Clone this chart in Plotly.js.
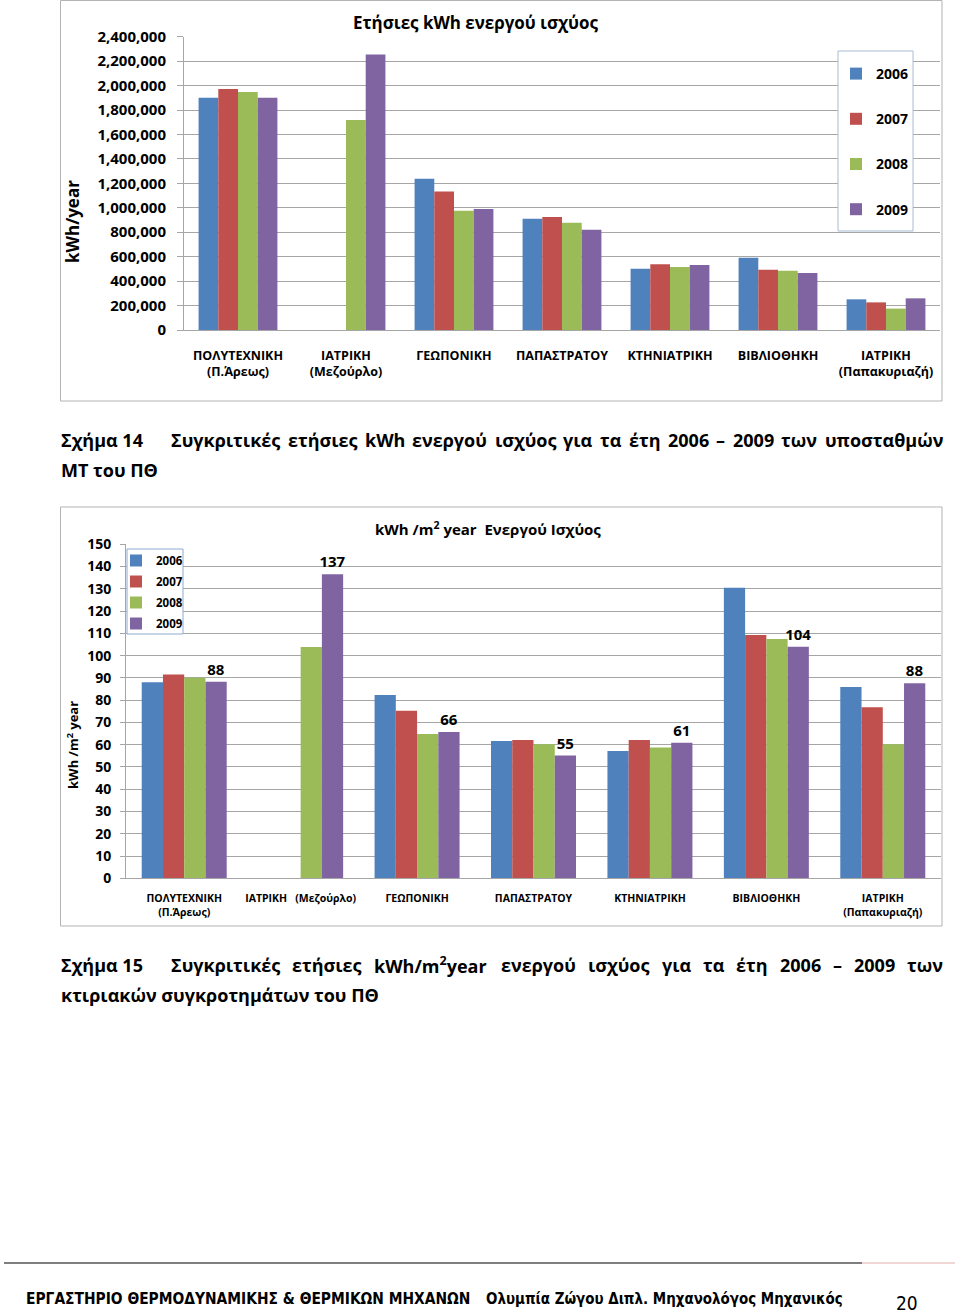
<!DOCTYPE html>
<html>
<head>
<meta charset="utf-8">
<script src="https://cdn.plot.ly/plotly-3.0.1.min.js"></script>
<style>
html,body{margin:0;padding:0;background:#fff;}
#chart{width:960px;height:1315px;}
</style>
</head>
<body>
<div id="chart"></div>
<script>
// ---------- DATA ----------
const categoriesEnergy = ["ΠΟΛΥΤΕΧΝΙΚΗ<br>(Π.Άρεως)", "ΙΑΤΡΙΚΗ<br>(Μεζούρλο)", "ΓΕΩΠΟΝΙΚΗ", "ΠΑΠΑΣΤΡΑΤΟΥ", "ΚΤΗΝΙΑΤΡΙΚΗ", "ΒΙΒΛΙΟΘΗΚΗ", "ΙΑΤΡΙΚΗ<br>(Παπακυριαζή)"];
const categoriesIntensity = ["ΠΟΛΥΤΕΧΝΙΚΗ<br>(Π.Άρεως)", "ΙΑΤΡΙΚΗ\u00a0\u00a0\u00a0(Μεζούρλο)", "ΓΕΩΠΟΝΙΚΗ", "ΠΑΠΑΣΤΡΑΤΟΥ", "ΚΤΗΝΙΑΤΡΙΚΗ", "ΒΙΒΛΙΟΘΗΚΗ", "ΙΑΤΡΙΚΗ<br>(Παπακυριαζή)"];
const years = ["2006", "2007", "2008", "2009"];

const energy2006 = [1901000, null, 1238000, 911000, 502000, 592000, 251000];
const energy2007 = [1972000, null, 1134000, 924000, 537000, 494000, 226000];
const energy2008 = [1947000, 1718000, 976000, 878000, 515000, 485000, 175000];
const energy2009 = [1900000, 2255000, 990000, 821000, 532000, 466000, 259000];

const intensity2006 = [88.0, null, 82.3, 61.7, 57.2, 130.5, 85.9];
const intensity2007 = [91.5, null, 75.3, 62.1, 62.1, 109.3, 76.8];
const intensity2008 = [90.1, 103.9, 64.8, 60.2, 58.7, 107.5, 60.2];
const intensity2009 = [88.3, 136.6, 65.7, 55.1, 60.9, 104.0, 87.6];

const seriesColors = ["#4f81bd", "#c0504d", "#9bbb59", "#8064a2"];

// ---------- HELPERS ----------
const W = 960, H = 1315;
const px = x => x / W;
const py = y => 1 - y / H;
const FONT = '"Open Sans", "Noto Sans", sans-serif';
const FOOTFONT = '"DejaVu Sans Condensed", "Liberation Sans Narrow", "DejaVu Sans", sans-serif';
const cv = document.createElement('canvas').getContext('2d');
function measure(text, size, weight, family) {
  cv.font = weight + ' ' + size + 'px ' + family;
  return cv.measureText(text.replace(/<\/?sup>/g, '')).width;
}
function fitSize(text, target, weight, family) {
  return 20 * target / measure(text, 20, weight, family);
}

const annotations = [];
function addText(text, xPix, yPix, size, opts) {
  opts = opts || {};
  annotations.push(Object.assign({
    text: text, x: px(xPix), y: py(yPix), xref: 'paper', yref: 'paper',
    xanchor: 'left', yanchor: 'middle', showarrow: false, borderpad: 0,
    font: {family: FONT, size: size, color: '#000', weight: 'bold'}
  }, opts));
}
function justify(words, x0, x1, yPix, size) {
  const ws = words.map(w => measure(w, size, 'bold', FONT));
  const total = ws.reduce((a, b) => a + b, 0);
  const gap = (x1 - x0 - total) / (words.length - 1);
  let x = x0;
  words.forEach((w, i) => { addText(w, x, yPix, size); x += ws[i] + gap; });
}

// ---------- TRACES ----------
const energySeries = [energy2006, energy2007, energy2008, energy2009];
const intensitySeries = [intensity2006, intensity2007, intensity2008, intensity2009];
const traces = [];
years.forEach((yr, i) => {
  traces.push({
    type: 'bar', name: yr, x: categoriesEnergy, y: energySeries[i],
    marker: {color: seriesColors[i]}, xaxis: 'x', yaxis: 'y',
    legend: 'legend', legendgroup: 'e' + i, hoverinfo: 'y+name'
  });
});
years.forEach((yr, i) => {
  const t = {
    type: 'bar', name: yr, x: categoriesIntensity, y: intensitySeries[i],
    marker: {color: seriesColors[i]}, xaxis: 'x2', yaxis: 'y2',
    legend: 'legend2', legendgroup: 'i' + i, hoverinfo: 'y+name'
  };
  if (i === 3) {
    t.text = intensitySeries[i].map(v => String(Math.round(v)));
    t.textposition = 'outside';
    t.constraintext = 'none';
    t.cliponaxis = false;
    t.textfont = {family: FONT, size: 15, color: '#000', weight: 'bold'};
  }
  traces.push(t);
});

// ---------- TEXT ----------
addText('Ετήσιες kWh ενεργού ισχύος', 476, 23, fitSize('Ετήσιες kWh ενεργού ισχύος', 245, 'bold', FONT), {xanchor: 'center'});
addText('kWh /m<sup>2</sup> year\u00a0\u00a0Ενεργού Ισχύος', 488, 528, 15, {xanchor: 'center'});
addText('kWh/year', 73, 222, 17, {xanchor: 'center', textangle: -90});
addText('kWh /m<sup>2</sup> year', 72, 745, 13, {xanchor: 'center', textangle: -90});

const capSize = fitSize('Σχήμα 14', 82, 'bold', FONT);
addText('Σχήμα 14', 60, 440, capSize);
justify(['Συγκριτικές', 'ετήσιες', 'kWh', 'ενεργού', 'ισχύος', 'για', 'τα', 'έτη', '2006', '–', '2009', 'των', 'υποσταθμών'], 170, 942, 440, capSize);
addText('ΜΤ του ΠΘ', 60, 470, capSize);
addText('Σχήμα 15', 60, 965, capSize);
justify(['Συγκριτικές', 'ετήσιες', 'kWh/m<sup>2</sup>year', 'ενεργού', 'ισχύος', 'για', 'τα', 'έτη', '2006', '–', '2009', 'των'], 170, 942, 965, capSize);
addText('κτιριακών συγκροτημάτων του ΠΘ', 60, 995, capSize);

const footA = 'ΕΡΓΑΣΤΗΡΙΟ ΘΕΡΜΟΔΥΝΑΜΙΚΗΣ & ΘΕΡΜΙΚΩΝ ΜΗΧΑΝΩΝ';
const footB = 'Ολυμπία Ζώγου Διπλ. Μηχανολόγος Μηχανικός';
const footSizeA = fitSize(footA, 445, 'bold', FOOTFONT);
const footSizeB = fitSize(footB, 357, 'bold', FOOTFONT);
addText(footA, 25, 1299, footSizeA, {font: {family: FOOTFONT, size: footSizeA, color: '#000', weight: 'bold'}});
addText(footB, 485, 1299, footSizeB, {font: {family: FOOTFONT, size: footSizeB, color: '#000', weight: 'bold'}});
addText('20', 907, 1303, 19, {xanchor: 'center', font: {family: FOOTFONT, size: 19, color: '#000', weight: 'normal'}});

// ---------- SHAPES ----------
const rect = (x0, y0, x1, y1, line, fill, layer) => ({
  type: 'rect', xref: 'paper', yref: 'paper', x0: px(x0), x1: px(x1), y0: py(y1), y1: py(y0),
  line: {color: line, width: 1}, fillcolor: fill || 'rgba(0,0,0,0)', layer: layer || 'below'
});
const shapes = [
  rect(60.5, 0.5, 942, 401, '#b3b3b3'),
  rect(60.5, 507, 942, 926, '#b3b3b3'),
  rect(838, 51, 913, 231, '#a8bcd6', '#ffffff', 'above'),
  rect(127, 549, 183, 634, '#8eaad0', '#ffffff', 'above'),
  {type: 'line', xref: 'paper', yref: 'paper', x0: px(4), x1: px(862), y0: py(1263), y1: py(1263), line: {color: '#555555', width: 1.5}},
  {type: 'line', xref: 'paper', yref: 'paper', x0: px(862), x1: px(955), y0: py(1263), y1: py(1263), line: {color: '#ecc8c8', width: 1.5}}
];

// ---------- LAYOUT ----------
const GRID = '#a6a6a6';
const layout = {
  width: W, height: H,
  margin: {l: 0, r: 0, t: 0, b: 0},
  paper_bgcolor: '#ffffff', plot_bgcolor: 'rgba(0,0,0,0)',
  barmode: 'group', bargap: 0.27, bargroupgap: 0,
  font: {family: FONT, color: '#000'},
  showlegend: true,
  xaxis: {
    domain: [px(184), px(940)], anchor: 'y', showline: true, linecolor: GRID, linewidth: 1,
    ticks: '', tickfont: {family: FONT, size: 12.5, weight: 'bold', color: '#000'},
    ticklabelstandoff: 14, fixedrange: true
  },
  yaxis: {
    domain: [py(330), py(36.7)], anchor: 'x', range: [0, 2400000], dtick: 200000, tickformat: ',',
    showgrid: true, gridcolor: GRID, gridwidth: 1, zeroline: false, showline: true, linecolor: GRID,
    ticks: 'outside', ticklen: 6, tickcolor: GRID, ticklabelstandoff: 8,
    tickfont: {family: FONT, size: 15, weight: 'bold', color: '#000'}, fixedrange: true
  },
  xaxis2: {
    domain: [px(126), px(941)], anchor: 'y2', showline: true, linecolor: GRID, linewidth: 1,
    ticks: '', tickfont: {family: FONT, size: 10.5, weight: 'bold', color: '#000'},
    ticklabelstandoff: 10, fixedrange: true
  },
  yaxis2: {
    domain: [py(878.3), py(544.3)], anchor: 'x2', range: [0, 150], dtick: 10,
    showgrid: true, gridcolor: GRID, gridwidth: 1, zeroline: false, showline: true, linecolor: GRID,
    ticks: 'outside', ticklen: 5, tickcolor: GRID, ticklabelstandoff: 6,
    tickfont: {family: FONT, size: 14, weight: 'bold', color: '#000'}, fixedrange: true
  },
  legend: {
    x: px(836), xanchor: 'left', y: py(58), yanchor: 'top', bgcolor: 'rgba(0,0,0,0)', borderwidth: 0,
    font: {family: FONT, size: 14, weight: 'bold', color: '#000'}, tracegroupgap: 24, itemwidth: 30,
    traceorder: 'grouped'
  },
  legend2: {
    x: px(116), xanchor: 'left', y: py(546), yanchor: 'top', bgcolor: 'rgba(0,0,0,0)', borderwidth: 0,
    font: {family: FONT, size: 11.5, weight: 'bold', color: '#000'}, tracegroupgap: 2, itemwidth: 30,
    traceorder: 'grouped'
  },
  shapes: shapes,
  annotations: annotations
};

Plotly.newPlot('chart', traces, layout, {displayModeBar: false, responsive: false});
</script>
</body>
</html>
